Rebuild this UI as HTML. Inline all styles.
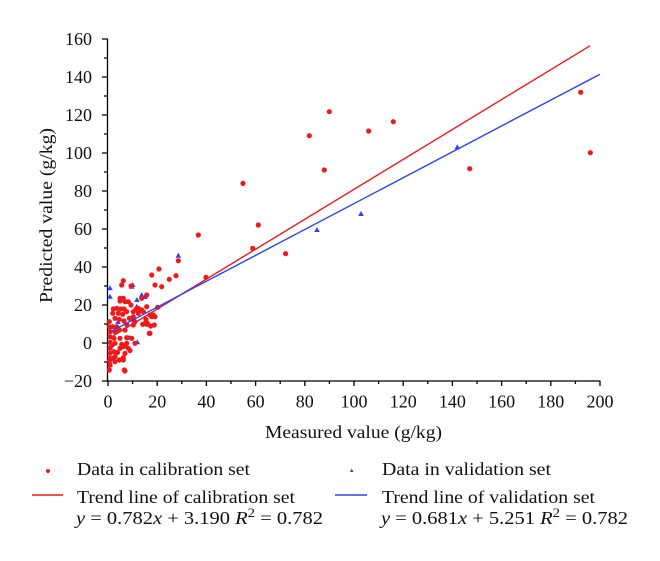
<!DOCTYPE html>
<html><head><meta charset="utf-8"><style>
html,body{margin:0;padding:0;background:#fff;}
svg{display:block;}
text{font-family:"Liberation Serif",serif;fill:#111;}
</style></head><body>
<svg width="660" height="561" viewBox="0 0 660 561" xmlns="http://www.w3.org/2000/svg">
<rect width="660" height="561" fill="#fff"/>
<defs>
<path id="t" d="M0,-3 L2.8,2 L-2.8,2 Z" fill="#2a45f5"/>
</defs>
<!-- axes -->
<g stroke="#000" stroke-width="1.3" fill="none">
<line x1="107.5" y1="38.5" x2="107.5" y2="381.5"/>
<line x1="107" y1="381" x2="600.5" y2="381"/>
<path d="M102,39H107M102,77H107M102,115H107M102,153H107M102,191H107M102,229H107M102,267H107M102,305H107M102,343H107M102,381H107"/>
<path d="M104,58H107M104,96H107M104,134H107M104,172H107M104,210H107M104,248H107M104,286H107M104,324H107M104,362H107"/>
<path d="M108,381V386M157.2,381V386M206.4,381V386M255.6,381V386M304.8,381V386M354,381V386M403.2,381V386M452.4,381V386M501.6,381V386M550.8,381V386M600,381V386"/>
<path d="M132.6,381V384M181.8,381V384M231,381V384M280.2,381V384M329.4,381V384M378.6,381V384M427.8,381V384M477,381V384M526.2,381V384M575.4,381V384"/>
</g>
<!-- y tick labels -->
<g font-size="18" text-anchor="end">
<text x="92" y="45">160</text>
<text x="92" y="83">140</text>
<text x="92" y="121">120</text>
<text x="92" y="159">100</text>
<text x="92" y="197">80</text>
<text x="92" y="235">60</text>
<text x="92" y="273">40</text>
<text x="92" y="311">20</text>
<text x="92" y="349">0</text>
<text x="92" y="387">−20</text>
</g>
<!-- x tick labels -->
<g font-size="18" text-anchor="middle">
<text x="108" y="407.5">0</text>
<text x="157.2" y="407.5">20</text>
<text x="206.4" y="407.5">40</text>
<text x="255.6" y="407.5">60</text>
<text x="304.8" y="407.5">80</text>
<text x="354" y="407.5">100</text>
<text x="403.2" y="407.5">120</text>
<text x="452.4" y="407.5">140</text>
<text x="501.6" y="407.5">160</text>
<text x="550.8" y="407.5">180</text>
<text x="600" y="407.5">200</text>
</g>
<!-- axis titles -->
<text x="265" y="438" font-size="18" textLength="177" lengthAdjust="spacingAndGlyphs">Measured value (g/kg)</text>
<text transform="translate(52,303) rotate(-90)" x="0" y="0" font-size="18" textLength="175" lengthAdjust="spacingAndGlyphs">Predicted value (g/kg)</text>

<!-- blue validation points -->
<g>
<use href="#t" x="110" y="288.3"/><use href="#t" x="110" y="296.7"/><use href="#t" x="131.7" y="286.7"/>
<use href="#t" x="141.7" y="295"/><use href="#t" x="136.7" y="306.7"/><use href="#t" x="112.7" y="326.7"/>
<use href="#t" x="131.7" y="317.7"/><use href="#t" x="129.3" y="337.7"/><use href="#t" x="137.3" y="342.3"/>
<use href="#t" x="110" y="346.7"/><use href="#t" x="110" y="365"/><use href="#t" x="178.3" y="255.7"/>
<use href="#t" x="457.3" y="147.3"/><use href="#t" x="361" y="214"/><use href="#t" x="317" y="230"/>
<use href="#t" x="132.7" y="285"/><use href="#t" x="145" y="297"/><use href="#t" x="137" y="300"/>
<use href="#t" x="110" y="330"/><use href="#t" x="118" y="322"/>
</g>
<!-- red calibration points -->
<g fill="#f01818">
<circle cx="329.3" cy="111.7" r="2.6"/><circle cx="309.3" cy="135.7" r="2.6"/><circle cx="324.3" cy="170" r="2.6"/>
<circle cx="368.7" cy="131" r="2.6"/><circle cx="393.3" cy="121.7" r="2.6"/><circle cx="469.7" cy="168.7" r="2.6"/>
<circle cx="580.7" cy="92.3" r="2.6"/><circle cx="590.3" cy="152.7" r="2.6"/><circle cx="243" cy="183.4" r="2.6"/>
<circle cx="285.6" cy="253.7" r="2.6"/><circle cx="198.3" cy="235" r="2.6"/><circle cx="252.7" cy="248.3" r="2.6"/>
<circle cx="258.3" cy="225" r="2.6"/><circle cx="206" cy="277.3" r="2.6"/>
<circle cx="178.3" cy="260.7" r="2.6"/><circle cx="151.7" cy="275" r="2.6"/><circle cx="159" cy="269" r="2.6"/>
<circle cx="169.3" cy="279.3" r="2.6"/><circle cx="176" cy="275.7" r="2.6"/><circle cx="155" cy="285" r="2.6"/>
<circle cx="161.7" cy="286.7" r="2.6"/><circle cx="157.7" cy="307.3" r="2.6"/><circle cx="150" cy="315" r="2.6"/>
<circle cx="155" cy="316.7" r="2.6"/><circle cx="149.3" cy="333.3" r="2.6"/><circle cx="147.3" cy="323.3" r="2.6"/>
<circle cx="141.7" cy="298.3" r="2.6"/><circle cx="146" cy="319.3" r="2.6"/><circle cx="150.7" cy="326" r="2.6"/>
<circle cx="146.7" cy="295" r="2.6"/><circle cx="141.7" cy="310" r="2.6"/><circle cx="136" cy="309.3" r="2.6"/>
<circle cx="133.3" cy="320" r="2.6"/><circle cx="131" cy="286" r="2.6"/><circle cx="123.3" cy="280.7" r="2.6"/>
<circle cx="121.7" cy="285" r="2.6"/><circle cx="120" cy="298.3" r="2.6"/><circle cx="123.3" cy="298.3" r="2.6"/>
<circle cx="128.3" cy="301.7" r="2.6"/><circle cx="125" cy="346" r="2.6"/><circle cx="123.3" cy="360" r="2.6"/>
<circle cx="124.3" cy="370" r="2.6"/><circle cx="119.3" cy="360" r="2.6"/><circle cx="113.3" cy="358.3" r="2.6"/>
<circle cx="154.3" cy="325" r="2.6"/><circle cx="135" cy="343.3" r="2.6"/><circle cx="145" cy="323.3" r="2.6"/>
<circle cx="138.3" cy="313.3" r="2.6"/><circle cx="133.3" cy="325" r="2.6"/>
<circle cx="122.7" cy="299" r="2.6"/><circle cx="125" cy="301.7" r="2.6"/><circle cx="120" cy="301" r="2.6"/>
<circle cx="113.3" cy="309" r="2.6"/><circle cx="116.7" cy="308.3" r="2.6"/><circle cx="120.7" cy="309" r="2.6"/>
<circle cx="124" cy="309" r="2.6"/><circle cx="126.7" cy="311.7" r="2.6"/><circle cx="112.7" cy="313.3" r="2.6"/>
<circle cx="118.3" cy="313.3" r="2.6"/><circle cx="122.7" cy="314.3" r="2.6"/><circle cx="133.3" cy="311.7" r="2.6"/>
<circle cx="138.3" cy="308.3" r="2.6"/><circle cx="143.3" cy="311.7" r="2.6"/><circle cx="146.7" cy="306.7" r="2.6"/>
<circle cx="151.7" cy="316.7" r="2.6"/><circle cx="153.3" cy="315" r="2.6"/><circle cx="115" cy="318.3" r="2.6"/>
<circle cx="119.3" cy="319.3" r="2.6"/><circle cx="124" cy="321" r="2.6"/><circle cx="129.3" cy="318.3" r="2.6"/>
<circle cx="133.3" cy="316.7" r="2.6"/><circle cx="135" cy="321.7" r="2.6"/><circle cx="142.7" cy="324.3" r="2.6"/>
<circle cx="146.7" cy="324.3" r="2.6"/><circle cx="109.3" cy="321.7" r="2.6"/><circle cx="112.7" cy="326.7" r="2.6"/>
<circle cx="116.7" cy="326.7" r="2.6"/><circle cx="110" cy="331.7" r="2.6"/><circle cx="115" cy="331.7" r="2.6"/>
<circle cx="119.3" cy="330" r="2.6"/><circle cx="125" cy="330" r="2.6"/><circle cx="150" cy="333.3" r="2.6"/>
<circle cx="110" cy="336.7" r="2.6"/><circle cx="114" cy="338.3" r="2.6"/><circle cx="120" cy="338.3" r="2.6"/>
<circle cx="126.7" cy="337.7" r="2.6"/><circle cx="131.7" cy="338.3" r="2.6"/><circle cx="110" cy="342.3" r="2.6"/>
<circle cx="115" cy="343.3" r="2.6"/><circle cx="121.7" cy="344.3" r="2.6"/><circle cx="126.7" cy="343.3" r="2.6"/>
<circle cx="123.3" cy="346.7" r="2.6"/><circle cx="120" cy="348.3" r="2.6"/><circle cx="128.3" cy="348.3" r="2.6"/>
<circle cx="110" cy="348.3" r="2.6"/><circle cx="114" cy="351.7" r="2.6"/><circle cx="110" cy="353.3" r="2.6"/>
<circle cx="125" cy="353.3" r="2.6"/><circle cx="115" cy="356.7" r="2.6"/><circle cx="123.3" cy="357.7" r="2.6"/>
<circle cx="110" cy="358.3" r="2.6"/><circle cx="115" cy="361.7" r="2.6"/><circle cx="110" cy="365" r="2.6"/>
<circle cx="125" cy="371" r="2.6"/><circle cx="109.3" cy="370" r="2.6"/><circle cx="130" cy="350.5" r="2.6"/>
<circle cx="117.5" cy="352.5" r="2.6"/><circle cx="127" cy="325" r="2.6"/><circle cx="131" cy="305" r="2.6"/>
<circle cx="109.5" cy="327" r="2.6"/><circle cx="109.5" cy="361" r="2.6"/><circle cx="112" cy="345" r="2.6"/>
</g>
<!-- trend lines -->
<line x1="112.9" y1="336" x2="590.2" y2="45.7" stroke="#f01818" stroke-width="1.4"/>
<line x1="110.5" y1="331.7" x2="600" y2="74.2" stroke="#2a45f5" stroke-width="1.4"/>

<!-- legend -->
<circle cx="48" cy="471" r="2" fill="#f01818"/>
<line x1="32" y1="495" x2="63" y2="495" stroke="#f01818" stroke-width="1.4"/>
<text x="77" y="475" font-size="18" textLength="173" lengthAdjust="spacingAndGlyphs">Data in calibration set</text>
<text x="77" y="503" font-size="18" textLength="218" lengthAdjust="spacingAndGlyphs">Trend line of calibration set</text>
<text x="76" y="524" font-size="18" textLength="247" lengthAdjust="spacingAndGlyphs"><tspan font-style="italic">y</tspan> = 0.782<tspan font-style="italic">x</tspan> + 3.190 <tspan font-style="italic">R</tspan><tspan font-size="13" dy="-7">2</tspan><tspan dy="7"> = 0.782</tspan></text>

<path d="M351.7,468.5 L353.5,472 L349.9,472 Z" fill="#2a45f5"/>
<line x1="335" y1="495" x2="367" y2="495" stroke="#2a45f5" stroke-width="1.4"/>
<text x="382" y="475" font-size="18" textLength="169" lengthAdjust="spacingAndGlyphs">Data in validation set</text>
<text x="382" y="503" font-size="18" textLength="213" lengthAdjust="spacingAndGlyphs">Trend line of validation set</text>
<text x="381" y="524" font-size="18" textLength="247" lengthAdjust="spacingAndGlyphs"><tspan font-style="italic">y</tspan> = 0.681<tspan font-style="italic">x</tspan> + 5.251 <tspan font-style="italic">R</tspan><tspan font-size="13" dy="-7">2</tspan><tspan dy="7"> = 0.782</tspan></text>
</svg>
</body></html>
